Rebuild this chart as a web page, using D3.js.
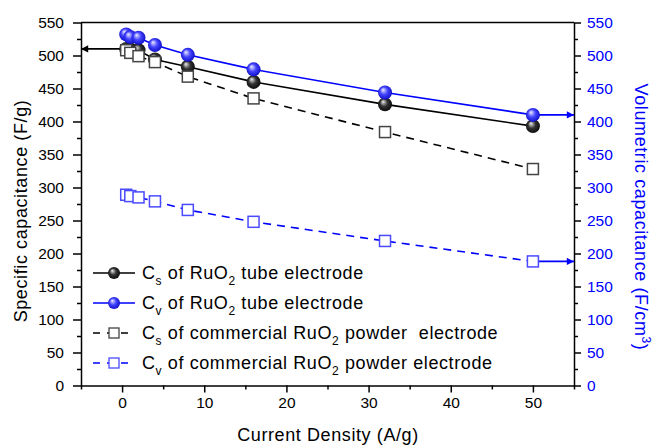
<!DOCTYPE html>
<html lang="en">
<head>
<meta charset="UTF-8">
<title>Capacitance vs current density</title>
<script src="https://d3js.org/d3.v7.min.js"></script>
<style>
  body { margin: 0; background: #fff; }
  text { font-family: Arial, "Liberation Sans", sans-serif; }
  .axis path, .axis line { stroke: #000; stroke-width: 1.5px; }
  .axis text { font-size: 15.5px; fill: #000; }
  .axis.right text { fill: #0000ff; }
  .title, .legend text { letter-spacing: 0.6px; }
</style>
</head>
<body>
<svg width="654" height="446"></svg>
<script>
// data
const density = [0.5, 1, 2, 4, 8, 16, 32, 50];
const csTube = [510, 509, 508, 494, 483, 460, 426, 393];
const cvTube = [532, 528, 527, 516, 501, 479, 444, 410];
const csPowder = [508, 504, 499, 490, 468, 435, 384, 328];
const cvPowder = [289, 287, 285, 279, 266, 248, 219, 188];
const xTicks = [0, 10, 20, 30, 40, 50];
const yTicks = [0, 50, 100, 150, 200, 250, 300, 350, 400, 450, 500, 550];

const svg = d3.select("svg");
const pLeft = 81, pRight = 574, pTop = 22.5, pBottom = 385.5;

const x = d3.scaleLinear().domain([-5, 55]).range([pLeft, pRight]);
const y = d3.scaleLinear().domain([0, 550]).range([pBottom, pTop]);
const y2 = d3.scaleLinear().domain([0, 550]).range([pBottom, pTop]);

// gradients for sphere markers
const defs = svg.append("defs");
function sphere(id, c0, c1, c2) {
  const g = defs.append("radialGradient").attr("id", id)
    .attr("cx", "0.5").attr("cy", "0.5").attr("r", "0.6")
    .attr("fx", "0.35").attr("fy", "0.3");
  g.append("stop").attr("offset", "0%").attr("stop-color", c0);
  g.append("stop").attr("offset", "45%").attr("stop-color", c1);
  g.append("stop").attr("offset", "100%").attr("stop-color", c2);
}
sphere("gBlack", "#f0f0f0", "#333", "#000");
sphere("gBlue", "#eeeeff", "#4545ff", "#0000b8");

// axes
const minorX = d3.range(-5, 56, 5).filter(d => d % 10 !== 0);
const minorY = d3.range(25, 550, 50);

svg.append("g").attr("class", "axis")
  .attr("transform", `translate(0,${pBottom})`)
  .call(d3.axisBottom(x).tickValues(xTicks).tickSize(7).tickPadding(4).tickSizeOuter(0));
svg.append("g").attr("class", "axis")
  .attr("transform", `translate(0,${pBottom})`)
  .call(d3.axisBottom(x).tickValues(minorX).tickSize(4).tickFormat("").tickSizeOuter(0))
  .call(g => g.select(".domain").remove());

svg.append("g").attr("class", "axis")
  .attr("transform", `translate(${pLeft},0)`)
  .call(d3.axisLeft(y).tickValues(yTicks).tickSize(8).tickPadding(9).tickSizeOuter(0));
svg.append("g").attr("class", "axis")
  .attr("transform", `translate(${pLeft},0)`)
  .call(d3.axisLeft(y).tickValues(minorY).tickSize(4).tickFormat(""))
  .call(g => g.select(".domain").remove());

svg.append("g").attr("class", "axis right")
  .attr("transform", `translate(${pRight},0)`)
  .call(d3.axisRight(y2).tickValues(yTicks).tickSize(7).tickPadding(6).tickSizeOuter(0));
svg.append("g").attr("class", "axis")
  .attr("transform", `translate(${pRight},0)`)
  .call(d3.axisRight(y2).tickValues(minorY).tickSize(4).tickFormat(""))
  .call(g => g.select(".domain").remove());

svg.append("line").attr("x1", pLeft).attr("x2", pRight).attr("y1", pTop).attr("y2", pTop)
  .attr("stroke", "#000").attr("stroke-width", 1.5);

// axis titles
svg.append("text").attr("class", "title").attr("x", 328).attr("y", 441)
  .attr("text-anchor", "middle").attr("font-size", 18).text("Current Density (A/g)");
svg.append("text").attr("class", "title").attr("transform", "translate(27,211) rotate(-90)")
  .attr("text-anchor", "middle").attr("font-size", 18).text("Specific capacitance (F/g)");
const rt = svg.append("text").attr("class", "title").attr("transform", "translate(635,217) rotate(90)")
  .attr("text-anchor", "middle").attr("font-size", 18).attr("fill", "#0000ff");
rt.append("tspan").text("Volumetric capacitance (F/cm");
rt.append("tspan").attr("font-size", 12).attr("dy", -7).text("3");
rt.append("tspan").attr("dy", 7).text(")");

// arrows
function head(id, color) {
  defs.append("marker").attr("id", id).attr("viewBox", "0 0 10 10")
    .attr("refX", 10).attr("refY", 5).attr("markerWidth", 7).attr("markerHeight", 4.5)
    .attr("orient", "auto").attr("markerUnits", "strokeWidth")
    .append("path").attr("d", "M0,0L10,5L0,10Z").attr("fill", color);
}
head("ahBlack", "#000");
head("ahBlue", "#0000ff");

const arrows = [
  { x0: density[0], v: csTube[0], to: pLeft, color: "#000", m: "ahBlack" },
  { x0: density[7], v: cvTube[7], to: pRight, color: "#0000ff", m: "ahBlue" },
  { x0: density[7], v: cvPowder[7], to: pRight, color: "#0000ff", m: "ahBlue" }
];
svg.append("g").selectAll("line").data(arrows).join("line")
  .attr("x1", d => x(d.x0)).attr("x2", d => d.to)
  .attr("y1", d => y(d.v)).attr("y2", d => y(d.v))
  .attr("stroke", d => d.color).attr("stroke-width", 1.6)
  .attr("marker-end", d => `url(#${d.m})`);

// series
const series = [
  { vals: csTube, color: "#000", dash: null, mark: "sphere", fill: "url(#gBlack)",
    label: "s", rest: " of RuO", tail: " tube electrode" },
  { vals: cvTube, color: "#0000ff", dash: null, mark: "sphere", fill: "url(#gBlue)",
    label: "v", rest: " of RuO", tail: " tube electrode" },
  { vals: csPowder, color: "#000", dash: "8,6", mark: "square", fill: "#fff",
    label: "s", rest: " of commercial RuO", tail: " powder  electrode" },
  { vals: cvPowder, color: "#0000ff", dash: "8,6", mark: "square", fill: "#fff",
    label: "v", rest: " of commercial RuO", tail: " powder electrode" }
];
const line = d3.line().x(d => x(d[0])).y(d => y(d[1]));

series.forEach(s => {
  const pts = density.map((d, i) => [d, s.vals[i]]);
  svg.append("path").datum(pts).attr("d", line)
    .attr("fill", "none").attr("stroke", s.color).attr("stroke-width", 1.6)
    .attr("stroke-dasharray", s.dash);
});

series.forEach(s => {
  const pts = density.map((d, i) => [d, s.vals[i]]);
  const g = svg.append("g");
  if (s.mark === "sphere") {
    g.selectAll("circle").data(pts).join("circle")
      .attr("cx", d => x(d[0])).attr("cy", d => y(d[1])).attr("r", 7)
      .attr("fill", s.fill);
  } else {
    g.selectAll("rect").data(pts).join("rect")
      .attr("x", d => x(d[0]) - 5.5).attr("y", d => y(d[1]) - 5.5)
      .attr("width", 11).attr("height", 11)
      .attr("fill", "#fff").attr("stroke", s.color === "#000" ? "#444" : "#4a4aff")
      .attr("stroke-width", 1.5);
  }
});

// legend
const legY = [273, 303, 333, 363];
const leg = svg.append("g").attr("class", "legend");
series.forEach((s, i) => {
  const ly = legY[i];
  leg.append("line").attr("x1", 93).attr("x2", 135).attr("y1", ly).attr("y2", ly)
    .attr("stroke", s.color).attr("stroke-width", 1.6)
    .attr("stroke-dasharray", s.dash ? "7,7" : null);
  if (s.mark === "sphere") {
    leg.append("circle").attr("cx", 114).attr("cy", ly).attr("r", 6).attr("fill", s.fill);
  } else {
    leg.append("rect").attr("x", 109).attr("y", ly - 5).attr("width", 10).attr("height", 10)
      .attr("fill", "#fff").attr("stroke", s.color === "#000" ? "#444" : "#4a4aff")
      .attr("stroke-width", 1.3);
  }
  const t = leg.append("text").attr("x", 142).attr("y", ly + 6).attr("font-size", 18)
    .style("white-space", "pre");
  t.append("tspan").text("C");
  t.append("tspan").attr("font-size", 12).attr("dy", 6).text(s.label);
  t.append("tspan").attr("dy", -6).text(s.rest);
  t.append("tspan").attr("font-size", 12).attr("dy", 6).text("2");
  t.append("tspan").attr("dy", -6).text(s.tail);
});
</script>
</body>
</html>
